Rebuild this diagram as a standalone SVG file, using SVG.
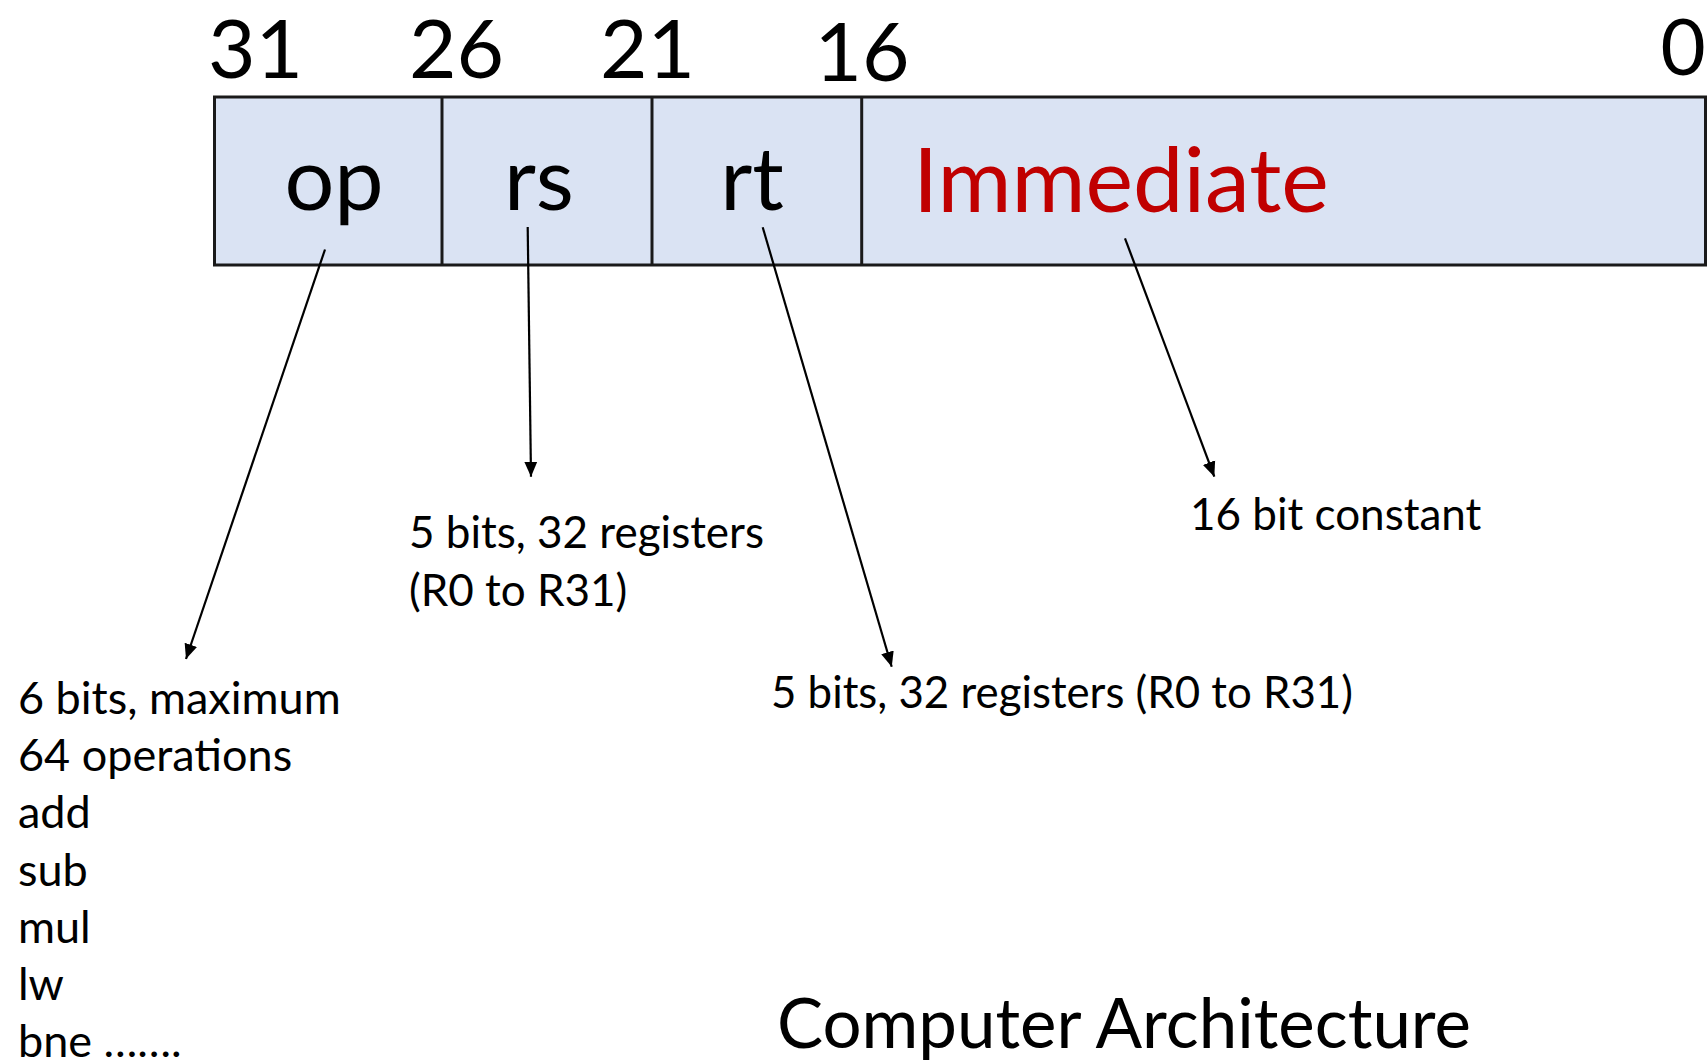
<svg xmlns="http://www.w3.org/2000/svg" width="1708" height="1064" viewBox="0 0 1708 1064">
<defs>
<style>
.t{font-family:Lato,"Open Sans","Liberation Sans",sans-serif;fill:#000}
.num{font-size:82px}
.cell{font-size:88px}
.imm{font-size:90px;fill:#C00000}
.lbl{font-size:44px}
.lst{font-size:45px}
.title{font-size:69px}
.box{fill:#DAE3F3;stroke:#1a1a1a;stroke-width:3}
.div{stroke:#1a1a1a;stroke-width:3}
.arr{stroke:#000;stroke-width:2.2;fill:none;marker-end:url(#ah)}
</style>
<marker id="ah" markerUnits="userSpaceOnUse" markerWidth="16" markerHeight="16" viewBox="0 0 16 16" refX="15" refY="8" orient="auto">
<path d="M0,1.5 L15,8 L0,14.5 Z" fill="#000"/>
</marker>
</defs>
<rect width="1708" height="1064" fill="#fff"/>

<g id="bit-numbers">
<text class="t num" x="255.5" y="78" text-anchor="middle">31</text>
<text class="t num" x="456.5" y="78" text-anchor="middle">26</text>
<text class="t num" x="647.5" y="78" text-anchor="middle">21</text>
<text class="t num" x="862" y="81" text-anchor="middle">16</text>
<text class="t num" x="1683" y="75" text-anchor="middle" style="font-size:78px">0</text>
</g>

<g id="instruction-format">
<rect class="box" x="214.5" y="97" width="1491" height="168"/>
<g id="field-op">
<text class="t cell" x="334" y="210" text-anchor="middle">op</text>
</g>
<line class="div" x1="442" y1="97" x2="442" y2="265"/>
<g id="field-rs">
<text class="t cell" x="539" y="210" text-anchor="middle">rs</text>
</g>
<line class="div" x1="652" y1="97" x2="652" y2="265"/>
<g id="field-rt">
<text class="t cell" x="752" y="210" text-anchor="middle">rt</text>
</g>
<line class="div" x1="861.7" y1="97" x2="861.7" y2="265"/>
<g id="field-imm">
<text class="t imm" x="913" y="212">Immediate</text>
</g>
</g>

<g id="connectors">
<line class="arr" x1="325" y1="249.5" x2="186" y2="659"/>
<line class="arr" x1="527.7" y1="227" x2="531" y2="476.7"/>
<line class="arr" x1="762.7" y1="227.3" x2="891.7" y2="666.7"/>
<line class="arr" x1="1125" y1="238.3" x2="1214.3" y2="476.7"/>
</g>

<g id="label-rs">
<text class="t lbl" x="409" y="548">5 bits, 32 registers</text>
<text class="t lbl" x="409" y="606">(R0 to R31)</text>
</g>
<g id="label-imm">
<text class="t lbl" x="1190" y="530">16 bit constant</text>
</g>
<g id="label-rt">
<text class="t lbl" x="771" y="708" style="font-size:43.8px">5 bits, 32 registers (R0 to R31)</text>
</g>
<g id="label-op">
<text class="t lst" x="18" y="713.5">6 bits, maximum</text>
<text class="t lst" x="18" y="771">64 operations</text>
<text class="t lst" x="18" y="828">add</text>
<text class="t lst" x="18" y="885.6">sub</text>
<text class="t lst" x="18" y="943">mul</text>
<text class="t lst" x="18" y="1000">lw</text>
<text class="t lst" x="18" y="1056.6">bne …….</text>
</g>
<g id="title">
<text class="t title" x="777" y="1048">Computer Architecture</text>
</g>
</svg>
